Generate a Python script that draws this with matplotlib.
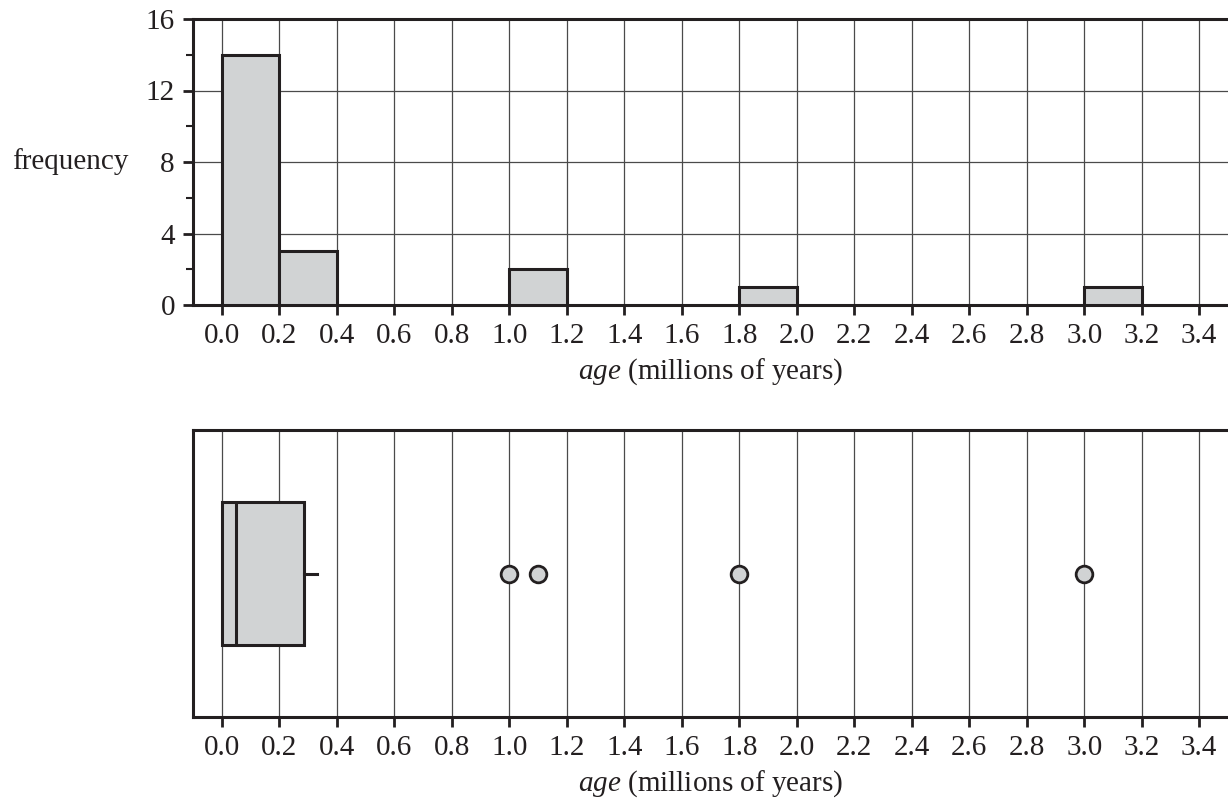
import matplotlib
matplotlib.use("Agg")
import matplotlib.pyplot as plt
import numpy as np

# ---- data ----
bin_lefts = [0.0, 0.2, 1.0, 1.8, 3.0]
bin_counts = [14, 3, 2, 1, 1]
bin_width = 0.2
x_ticks = [0.0, 0.2, 0.4, 0.6, 0.8, 1.0, 1.2, 1.4, 1.6, 1.8, 2.0, 2.2, 2.4, 2.6, 2.8, 3.0, 3.2, 3.4]
y_ticks = [0, 4, 8, 12, 16]
y_minor = [2, 6, 10, 14]
box_q1, box_med, box_q3 = 0.0, 0.05, 0.285
box_whislo, box_whishi = 0.0, 0.33
outliers = [1.0, 1.1, 1.8, 3.0]

FILL = "#d1d3d4"
DARK = "#231f20"
GRID = "#4a4a4a"

plt.rcParams["font.family"] = ["Liberation Serif", "DejaVu Serif"]
plt.rcParams["font.size"] = 21
plt.rcParams["mathtext.fontset"] = "custom"
plt.rcParams["mathtext.rm"] = "Liberation Serif"
plt.rcParams["mathtext.it"] = "Liberation Serif:italic"
plt.rcParams["mathtext.bf"] = "Liberation Serif:bold"

fig = plt.figure(figsize=(12.28, 8.0), dpi=100)

L = 193 / 1228
ax1 = fig.add_axes([L, 1 - 305 / 800, 1 - L, (305 - 19) / 800])
ax2 = fig.add_axes([L, 1 - 717 / 800, 1 - L, (717 - 430) / 800])

for ax in (ax1, ax2):
    ax.set_xlim(-0.1, 3.5)
    ax.set_xticks(x_ticks)
    ax.set_xticklabels([f"{t:.1f}" for t in x_ticks])
    ax.spines["right"].set_visible(False)
    for s in ("left", "top", "bottom"):
        ax.spines[s].set_linewidth(2.2)
        ax.spines[s].set_color(DARK)
    ax.tick_params(axis="both", which="major", direction="out", length=7,
                   width=2.0, color=DARK, labelcolor=DARK, pad=6)
    ax.set_axisbelow(True)
    ax.grid(True, axis="x", color=GRID, linewidth=0.9)
    ax.set_xlabel("$\\mathit{age}$ (millions of years)", labelpad=5)
    ax.xaxis.label.set_color(DARK)

# --- histogram ---
ax1.set_ylim(0, 16)
ax1.set_yticks(y_ticks)
ax1.set_yticks(y_minor, minor=True)
ax1.tick_params(axis="y", which="minor", direction="out", length=5, width=1.5, color=DARK)
ax1.grid(True, axis="y", color=GRID, linewidth=0.9)
ax1.bar(bin_lefts, bin_counts, width=bin_width, align="edge",
        color=FILL, edgecolor=DARK, linewidth=2.2, zorder=3)
ax1.set_ylabel("frequency", rotation=0, color=DARK)
ax1.yaxis.set_label_coords(-0.175, 0.5)
ax1.yaxis.label.set_horizontalalignment("left")
ax1.yaxis.label.set_verticalalignment("center")

# --- boxplot ---
stats = [dict(q1=box_q1, med=box_med, q3=box_q3, whislo=box_whislo,
              whishi=box_whishi, fliers=outliers)]
ax2.set_ylim(0.5, 1.5)
ax2.bxp(stats, positions=[1], widths=0.5, vert=False, patch_artist=True,
        showcaps=False,
        boxprops=dict(facecolor=FILL, edgecolor=DARK, linewidth=2.2),
        medianprops=dict(color=DARK, linewidth=2.2),
        whiskerprops=dict(color=DARK, linewidth=2.2),
        flierprops=dict(marker="o", markersize=12, markerfacecolor=FILL,
                        markeredgecolor=DARK, markeredgewidth=2.0))
ax2.set_yticks([])

fig.savefig("out.png", dpi=100)
